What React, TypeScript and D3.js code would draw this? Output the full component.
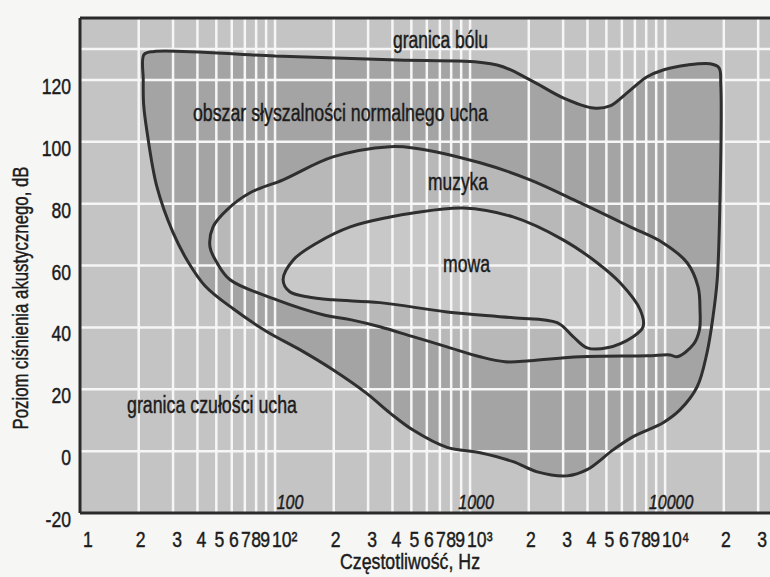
import React from 'react'
import * as d3 from 'd3'

// hearing area (Hz, dB) – outer boundary: pain threshold on top, hearing threshold below
const outerCurve: [number, number][] = [
  [24, 129.2], [100, 127.7], [389, 126.5], [1375, 124.8], [2030, 120], [3000, 114.2],
  [4300, 110.9], [5220, 111.6], [6380, 115.8], [8090, 121], [9770, 123.2], [13000, 124.8],
  [17000, 125.2], [18900, 123.9], [19300, 118.4], [19100, 80], [18500, 55.4], [17600, 43.4],
  [16400, 31.8], [14600, 20.8], [11940, 13.4], [9770, 9.2], [6860, 4.7], [5410, 0.4],
  [3980, -6], [3140, -8], [2210, -6.7], [1662, -3.4], [1125, -0.5], [762, 1.2], [510, 6.8],
  [389, 12.3], [296, 18.6], [198, 26.3], [134, 32.8], [91, 38.6], [61, 46], [43.8, 53.4],
  [35.8, 61.2], [30, 70.6], [24.8, 85.4], [22.1, 102.9], [21.2, 112], [21.1, 120], [21.3, 128.2]
]

const musicCurve: [number, number][] = [
  [198, 95.1], [389, 98.4], [510, 98], [1125, 93.2], [2030, 87.7], [3660, 80.3], [6620, 72.5],
  [9770, 67.3], [12970, 60.9], [14760, 53.1], [15100, 45.7], [15000, 39.2], [13930, 34.4],
  [11530, 30.5], [10610, 31.1], [8090, 30.8], [3660, 30.5], [2030, 29.2], [1510, 28.9],
  [1125, 30.5], [762, 33.7], [510, 37], [345, 40.2], [243, 42.5], [176, 44.1], [102, 48.9],
  [58.8, 55.4], [50.4, 60.9], [46.4, 66], [48.1, 72.5], [56.7, 78], [74.5, 83.5], [110, 87.7]
]

const speechCurve: [number, number][] = [
  [243, 72.5], [389, 75.7], [510, 77], [920, 78.6], [1662, 75.7], [3000, 68.3], [4480, 60.9],
  [5880, 54.4], [7450, 45.7], [7710, 40.2], [6855, 37], [5040, 33.4], [3980, 33.4], [3375, 37],
  [2795, 41.5], [1662, 43.1], [762, 45], [345, 48], [198, 48.9], [146, 49.9], [119, 51.5],
  [110, 55.4], [124, 61.8], [164, 67.3]
]

const dbTicks = [-20, 0, 20, 40, 60, 80, 100, 120]
const dbGrid = [0, 20, 40, 60, 80, 100, 120, 130]
const decades = [10, 100, 1000, 10000]
const mults = [1, 2, 3, 4, 5, 6, 7, 8, 9]
const sup = ['', '²', '³', '⁴']
const decadeMarks = [100, 1000, 10000]

const font = "'Liberation Sans', Arial, sans-serif"
// little nudges so the crowded digits sit like in the printed figure
const labelNudge: Record<number, number> = { 2: 2, 3: 4, 4: 4, 5: 3, 6: 2, 7: 1, 8: 0, 9: -1 }
const markNudge = [15, 6, 6]

const W = 770
const H = 577
const SX = 0.8

function Narrow({ x, y, size, anchor = 'start', italic = false, children }: any) {
  return (
    <text transform={`translate(${x},${y}) scale(${SX},1)`} fontSize={size}
      textAnchor={anchor} fontStyle={italic ? 'italic' : 'normal'}>{children}</text>
  )
}

export default function App() {
  const x = d3.scaleLog().domain([10, 34500]).range([80, 770])
  const y = d3.scaleLinear().domain([-20, 140]).range([513, 18])

  const line = d3.line<[number, number]>()
    .x(d => x(d[0]))
    .y(d => y(d[1]))
    .curve(d3.curveCatmullRomClosed.alpha(0.5))

  const gridFreqs: number[] = []
  decades.forEach(d => mults.forEach(m => {
    const f = d * m
    if (f > 10 && f < 34500) gridFreqs.push(f)
  }))

  const plotTop = y(140)
  const plotBottom = y(-20)

  const xLabels: React.ReactNode[] = []
  decades.forEach((d, i) => mults.forEach(m => {
    const f = d * m
    if (f > 34500) return
    if (m === 1) {
      if (i === 0) xLabels.push(<Narrow key={f} x={x(f) + 8} y={547} size={22} anchor="middle">1</Narrow>)
      else xLabels.push(<Narrow key={f} x={x(f) - 3} y={547} size={22}>{'10' + sup[i]}</Narrow>)
    } else {
      xLabels.push(<Narrow key={f} x={x(f) + labelNudge[m]} y={547} size={22} anchor="middle">{m}</Narrow>)
    }
  }))

  return (
    <svg width={W} height={H} style={{ display: 'block', position: 'absolute', left: 0, top: 0 }}>
      <rect width={W} height={H} fill="#f6f6f4" />
      <rect x={80} y={plotTop} width={W - 80} height={plotBottom - plotTop} fill="#c4c4c4" />

      <path d={line(outerCurve) || ''} fill="#a4a4a4" />
      <path d={line(musicCurve) || ''} fill="#b8b8b8" />
      <path d={line(speechCurve) || ''} fill="#c8c8c8" />

      <g stroke="#f6f6f6" strokeWidth={2.5}>
        {gridFreqs.map(f => (
          <line key={f} x1={x(f)} x2={x(f)} y1={plotTop} y2={plotBottom} />
        ))}
        {dbGrid.map(v => (
          <line key={v} x1={80} x2={W} y1={y(v)} y2={y(v)} />
        ))}
      </g>

      <g fill="none" stroke="#2f2f2f" strokeWidth={3}>
        <path d={line(outerCurve) || ''} />
        <path d={line(musicCurve) || ''} />
        <path d={line(speechCurve) || ''} />
      </g>

      <g stroke="#2a2a2a" strokeWidth={3}>
        <line x1={80} x2={W} y1={plotTop} y2={plotTop} />
        <line x1={80} x2={W} y1={plotBottom} y2={plotBottom} />
        <line x1={80} x2={80} y1={plotTop} y2={plotBottom} />
      </g>

      <g fontFamily={font} fill="#1c1c1c" stroke="#1c1c1c" strokeWidth={0.45}>
        {dbTicks.map(v => (
          <Narrow key={v} x={71} y={y(v) + 14} size={22} anchor="end">{v}</Narrow>
        ))}
        {xLabels}
        {decadeMarks.map((f, i) => (
          <Narrow key={f} x={x(f) + markNudge[i]} y={509} size={20} anchor="middle" italic>{f}</Narrow>
        ))}

        <text x={393} y={48} fontSize={23} textLength={95} lengthAdjust="spacingAndGlyphs">granica bólu</text>
        <text x={193} y={121} fontSize={23} textLength={295} lengthAdjust="spacingAndGlyphs">obszar słyszalności normalnego ucha</text>
        <text x={428} y={190} fontSize={23} textLength={60} lengthAdjust="spacingAndGlyphs">muzyka</text>
        <text x={443} y={272} fontSize={23} textLength={47} lengthAdjust="spacingAndGlyphs">mowa</text>
        <text x={127} y={413} fontSize={23} textLength={170} lengthAdjust="spacingAndGlyphs">granica czułości ucha</text>

        <text x={410} y={569} fontSize={22} textAnchor="middle" textLength={140} lengthAdjust="spacingAndGlyphs">Częstotliwość, Hz</text>
        <text transform="translate(28,298) rotate(-90)" fontSize={22} textAnchor="middle"
          textLength={263} lengthAdjust="spacingAndGlyphs">Poziom ciśnienia akustycznego, dB</text>
      </g>
    </svg>
  )
}
